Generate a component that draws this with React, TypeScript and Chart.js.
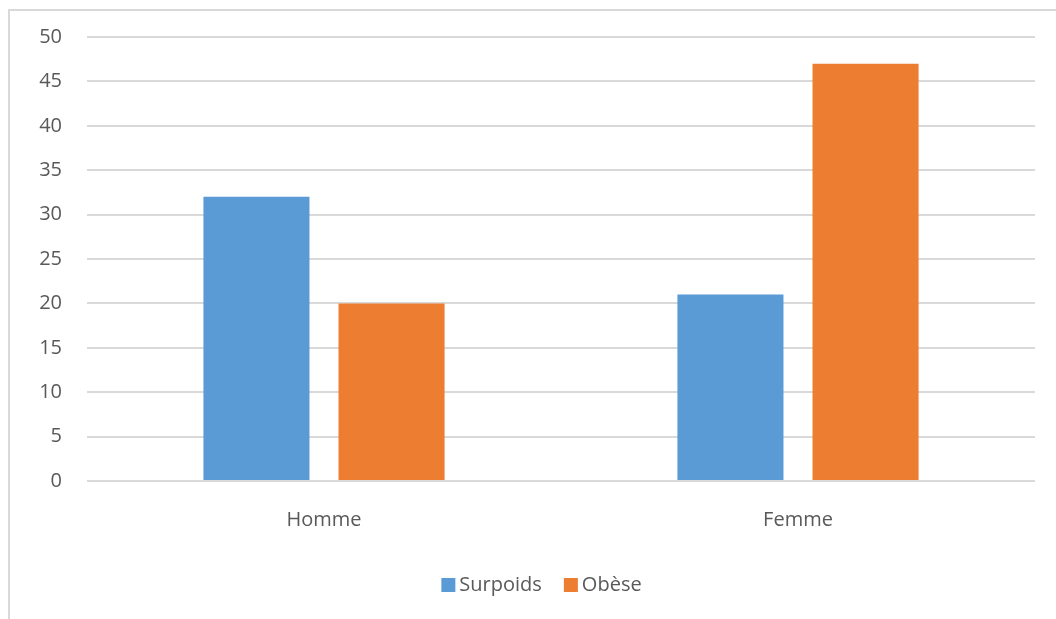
import React, { useEffect, useRef } from "react";
import { Chart, registerables } from "chart.js";

Chart.register(...registerables);

const categories = ["Homme", "Femme"];
const surpoids = [32, 21];
const obese = [20, 47];
const seriesNames = ["Surpoids", "Obèse"];
const seriesColors = ["#5B9BD5", "#ED7D31"];
const yTicks = [0, 5, 10, 15, 20, 25, 30, 35, 40, 45, 50];

const FONT = "'Open Sans', 'Noto Sans', sans-serif";
const TEXT = "#595959";
const GRID = "#d9d9d9";

// Thin frame along the top and left edges of the chart box
const framePlugin = {
  id: "frame",
  beforeDraw(chart: Chart) {
    const ctx = chart.ctx;
    ctx.save();
    ctx.strokeStyle = GRID;
    ctx.lineWidth = 2;
    ctx.beginPath();
    ctx.moveTo(9, chart.height + 2);
    ctx.lineTo(9, 10);
    ctx.lineTo(chart.width + 2, 10);
    ctx.stroke();
    ctx.restore();
  },
};

// Compact legend row under the category labels: square swatch, tight gap, label
const legendPlugin = {
  id: "compactLegend",
  afterDraw(chart: Chart) {
    const ctx = chart.ctx;
    const box = 14;
    const gap = 4;
    const itemGap = 22;
    const centerX = 541.5;
    const centerY = 585;
    ctx.save();
    ctx.font = `20px ${FONT}`;
    ctx.textBaseline = "middle";
    ctx.textAlign = "left";
    const items = chart.data.datasets.map((ds, i) => ({
      text: String(ds.label),
      color: String(ds.backgroundColor),
      w: ctx.measureText(String(ds.label)).width,
    }));
    const total =
      items.reduce((s, it) => s + box + gap + it.w, 0) + itemGap * (items.length - 1);
    let x = centerX - total / 2;
    items.forEach((it) => {
      ctx.fillStyle = it.color;
      ctx.fillRect(x, centerY - box / 2, box, box);
      ctx.fillStyle = TEXT;
      ctx.fillText(it.text, x + box + gap, centerY);
      x += box + gap + it.w + itemGap;
    });
    ctx.restore();
  },
};

export default function App() {
  const ref = useRef<HTMLCanvasElement | null>(null);

  useEffect(() => {
    if (!ref.current) return;
    const chart = new Chart(ref.current, {
      type: "bar",
      data: {
        labels: categories,
        datasets: [
          {
            label: seriesNames[0],
            data: surpoids,
            backgroundColor: seriesColors[0],
            categoryPercentage: 0.57,
            barPercentage: 0.785,
          },
          {
            label: seriesNames[1],
            data: obese,
            backgroundColor: seriesColors[1],
            categoryPercentage: 0.57,
            barPercentage: 0.785,
          },
        ],
      },
      options: {
        animation: false,
        responsive: false,
        maintainAspectRatio: false,
        layout: { padding: { top: 30, right: 21, bottom: 0, left: 0 } },
        plugins: {
          legend: { display: false },
          tooltip: { enabled: false },
        },
        scales: {
          x: {
            grid: { display: false, drawTicks: false },
            border: { display: false },
            ticks: { color: TEXT, font: { family: FONT, size: 20 }, padding: 27 },
            afterFit(scale: any) {
              scale.height = 138;
            },
          },
          y: {
            min: 0,
            max: 50,
            afterBuildTicks(scale: any) {
              scale.ticks = yTicks.map((v) => ({ value: v }));
            },
            grid: { color: GRID, lineWidth: 2, drawTicks: false },
            border: { display: false },
            ticks: { color: TEXT, font: { family: FONT, size: 20 }, padding: 25 },
            afterFit(scale: any) {
              scale.width = 87;
            },
          },
        },
      },
      plugins: [framePlugin, legendPlugin],
    });
    return () => chart.destroy();
  }, []);

  return (
    <div style={{ position: "fixed", left: 0, top: 0, width: 1056, height: 619, background: "#fff" }}>
      <canvas ref={ref} width={1056} height={619} style={{ display: "block" }} />
    </div>
  );
}
